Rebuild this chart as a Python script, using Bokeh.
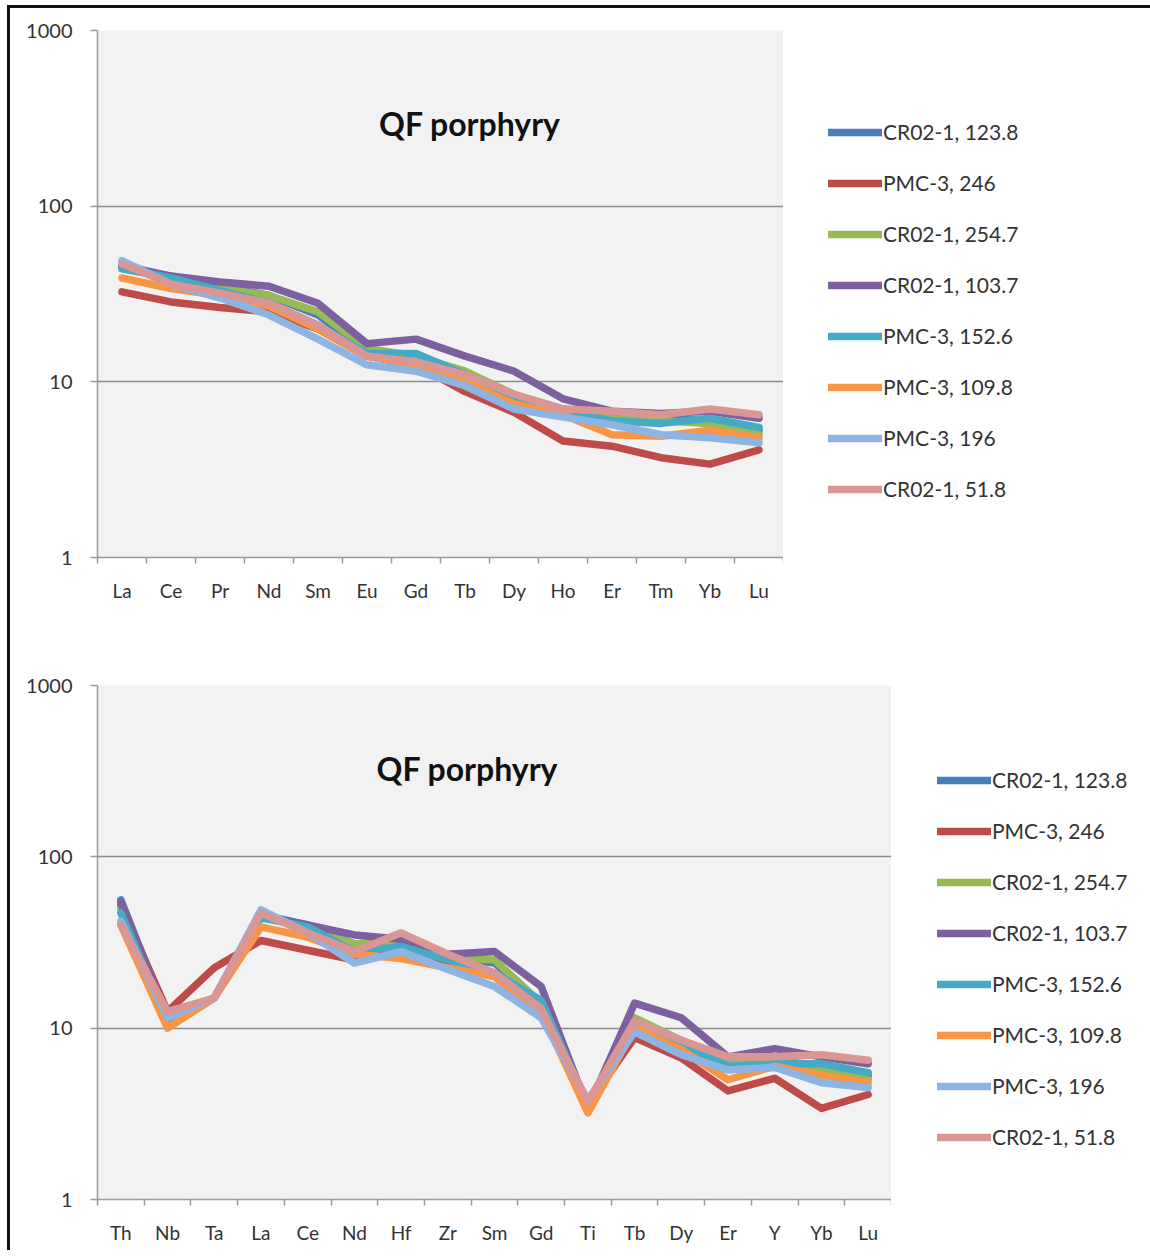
from bokeh.plotting import figure
from bokeh.models import FixedTicker, Legend, LegendItem, Label, Range1d, InlineStyleSheet
from bokeh.layouts import row
from bokeh.embed import file_html
from bokeh.resources import INLINE

# ---------------- data ----------------
ree_elements = ["La", "Ce", "Pr", "Nd", "Sm", "Eu", "Gd", "Tb", "Dy", "Ho", "Er", "Tm", "Yb", "Lu"]
spider_elements = ["Th", "Nb", "Ta", "La", "Ce", "Nd", "Hf", "Zr", "Sm", "Gd", "Ti", "Tb", "Dy", "Er", "Y", "Yb", "Lu"]

series_names = ["CR02-1, 123.8", "PMC-3, 246", "CR02-1, 254.7", "CR02-1, 103.7",
                "PMC-3, 152.6", "PMC-3, 109.8", "PMC-3, 196", "CR02-1, 51.8"]
series_colors = ["#4a7ebb", "#be4b48", "#98b954", "#7d60a0",
                 "#46aac5", "#f79646", "#8eb4e3", "#d99694"]

ree_cr02_123_8 = [46, 40, 35, 31, 24, 15, 14, 11, 8.2, 7.0, 6.5, 6.2, 6.0, 5.3]
ree_pmc3_246 = [32.5, 28.5, 26.5, 25, 20, 14, 12.5, 8.8, 6.7, 4.6, 4.3, 3.7, 3.4, 4.1]
ree_cr02_254_7 = [45, 39, 34, 31, 25, 15.5, 14, 11.5, 8.5, 7.0, 6.3, 6.0, 5.8, 5.0]
ree_cr02_103_7 = [45, 40, 37, 35, 28, 16.5, 17.5, 14, 11.5, 8.0, 6.8, 6.6, 6.8, 6.2]
ree_pmc3_152_6 = [44, 39, 33, 28, 21, 14.5, 14.5, 11, 8.0, 6.8, 6.0, 5.8, 6.2, 5.5]
ree_pmc3_109_8 = [39, 34, 31, 27, 20, 14, 12.5, 10, 7.5, 6.5, 5.0, 4.9, 5.3, 4.8]
ree_pmc3_196 = [49, 36, 30, 24, 17.5, 12.5, 11.5, 9.5, 7.0, 6.3, 5.7, 5.0, 4.8, 4.5]
ree_cr02_51_8 = [47, 36, 32, 28, 21, 14, 13, 11, 8.5, 7.0, 6.8, 6.5, 7.0, 6.5]

spider_cr02_123_8 = [56, 11.5, 15, 46, 40, 31, 32, 26, 24, 14, 3.5, 11, 8.2, 6.5, 6.5, 6.0, 5.3]
spider_pmc3_246 = [52, 12.5, 22.5, 32.5, 28.5, 25, 28, 24, 20, 12.5, 3.6, 8.8, 6.7, 4.3, 5.1, 3.4, 4.1]
spider_cr02_254_7 = [50, 11, 15, 45, 39, 31, 32, 26, 25, 14, 3.5, 11.5, 8.5, 6.3, 6.5, 5.8, 5.0]
spider_cr02_103_7 = [54, 11.5, 15, 45, 40, 35, 33, 27, 28, 17.5, 3.4, 14, 11.5, 6.8, 7.6, 6.8, 6.2]
spider_pmc3_152_6 = [47, 11, 15, 44, 39, 28, 30, 25, 21, 14.5, 3.5, 11, 8.0, 6.0, 6.2, 6.2, 5.5]
spider_pmc3_109_8 = [40, 10, 15, 39, 34, 27, 25.5, 22.5, 20, 12.5, 3.2, 10, 7.5, 5.0, 6.0, 5.3, 4.8]
spider_pmc3_196 = [42, 11.5, 15, 49, 36, 24, 28, 22, 17.5, 11.5, 3.8, 9.5, 7.0, 5.7, 5.9, 4.8, 4.5]
spider_cr02_51_8 = [40, 12.5, 15, 47, 36, 28, 36, 27, 21, 13, 3.7, 11, 8.5, 6.8, 6.8, 7.0, 6.5]

ree_series = [ree_cr02_123_8, ree_pmc3_246, ree_cr02_254_7, ree_cr02_103_7,
              ree_pmc3_152_6, ree_pmc3_109_8, ree_pmc3_196, ree_cr02_51_8]
spider_series = [spider_cr02_123_8, spider_pmc3_246, spider_cr02_254_7, spider_cr02_103_7,
                 spider_pmc3_152_6, spider_pmc3_109_8, spider_pmc3_196, spider_cr02_51_8]

y_ticks = [1, 10, 100, 1000]
chart_title = "QF porphyry"

FONT = "Lato"


def make_chart(elements, values, b_left, frame_w, frame_h, b_top, b_bottom, title_pos):
    n = len(elements)
    p = figure(width=b_left + frame_w, height=b_top + frame_h + b_bottom, y_axis_type="log",
               x_range=Range1d(-0.5, n - 0.5), y_range=Range1d(1, 1000),
               output_backend="svg", toolbar_location=None,
               min_border_left=b_left, min_border_right=0,
               min_border_top=b_top, min_border_bottom=b_bottom)
    p.background_fill_color = "#f2f2f2"
    p.border_fill_color = "white"
    p.outline_line_color = None

    xs = list(range(n))
    for color, vals in zip(series_colors, values):
        p.line(xs, vals, line_color=color, line_width=7.5, line_join="round", line_cap="round")

    # x axis
    xa = p.xaxis[0]
    xa.ticker = FixedTicker(ticks=xs, minor_ticks=[i - 0.5 for i in range(n + 1)])
    xa.major_label_overrides = {i: e for i, e in enumerate(elements)}
    xa.major_tick_out = 0
    xa.major_tick_in = 0
    xa.minor_tick_out = 6
    xa.minor_tick_in = 0
    xa.minor_tick_line_color = "#9a9a9a"
    xa.minor_tick_line_width = 1.5
    xa.axis_line_color = "#9a9a9a"
    xa.axis_line_width = 1.5
    xa.major_label_text_font = FONT
    xa.major_label_text_font_size = "19px"
    xa.major_label_text_color = "#333333"
    xa.major_label_standoff = 15

    # y axis
    ya = p.yaxis[0]
    ya.ticker = FixedTicker(ticks=y_ticks, minor_ticks=[])
    ya.major_label_overrides = {t: str(t) for t in y_ticks}
    ya.major_tick_out = 7
    ya.major_tick_in = 0
    ya.major_tick_line_color = "#9a9a9a"
    ya.major_tick_line_width = 1.5
    ya.minor_tick_out = 0
    ya.minor_tick_in = 0
    ya.axis_line_color = "#9a9a9a"
    ya.axis_line_width = 1.5
    ya.major_label_text_font = FONT
    ya.major_label_text_font_size = "20px"
    ya.major_label_text_color = "#333333"
    ya.major_label_standoff = 18

    p.xgrid.visible = False
    p.ygrid.ticker = FixedTicker(ticks=y_ticks, minor_ticks=[])
    p.ygrid.grid_line_color = "#8c8c8c"
    p.ygrid.grid_line_width = 1.5

    p.add_layout(Label(x=title_pos[0], y=title_pos[1], text=chart_title,
                       text_font=FONT, text_font_style="bold", text_font_size="32px",
                       text_color="#111111", text_align="center", text_baseline="middle"))
    return p


def make_legend_panel(values, width, frame_h, b_top, b_bottom, legend_loc):
    # A blank panel to the right of the chart that only shows the legend.
    # Its renderers carry the same series, but its ranges keep them out of view.
    q = figure(width=width, height=b_top + frame_h + b_bottom,
               x_range=Range1d(-2, -1), y_range=Range1d(-2, -1),
               x_axis_location=None, y_axis_location=None,
               output_backend="svg", toolbar_location=None,
               min_border_left=0, min_border_right=0,
               min_border_top=b_top, min_border_bottom=b_bottom)
    q.background_fill_color = "white"
    q.border_fill_color = "white"
    q.outline_line_color = None
    q.xgrid.visible = False
    q.ygrid.visible = False
    items = []
    for name, color, vals in zip(series_names, series_colors, values):
        r = q.line(list(range(len(vals))), vals, line_color=color, line_width=7.5, line_cap="round")
        items.append(LegendItem(label=name, renderers=[r]))
    legend = Legend(items=items, location=legend_loc, orientation="vertical",
                    glyph_width=54, glyph_height=20, label_height=20, spacing=26,
                    padding=0, margin=0, label_standoff=1,
                    label_text_font=FONT, label_text_font_size="21px",
                    label_text_color="#333333",
                    border_line_alpha=0, background_fill_alpha=0)
    q.add_layout(legend)
    return q


# page offset: frame border at left 7..10, top 5..8; total content width 1140
p1 = make_chart(ree_elements, ree_series, 87, 686, 527, 22, 73, (7.1, 295))
l1 = make_legend_panel(ree_series, 1140 - 87 - 686, 527, 22, 73, (45, 56))
p2 = make_chart(spider_elements, spider_series, 87, 794, 514, 55, 51, (7.42, 328))
l2 = make_legend_panel(spider_series, 1140 - 87 - 794, 514, 55, 51, (46, 50))

top_css = InlineStyleSheet(css=":host { border-left: 3px solid #111; border-top: 3px solid #111; margin-left: 7px; margin-top: 5px; }")
bottom_css = InlineStyleSheet(css=":host { border-left: 3px solid #111; margin-left: 7px; }")
root1 = row(p1, l1, stylesheets=[top_css])
root2 = row(p2, l2, stylesheets=[bottom_css])

open("out.html", "w").write(file_html([root1, root2], INLINE))
